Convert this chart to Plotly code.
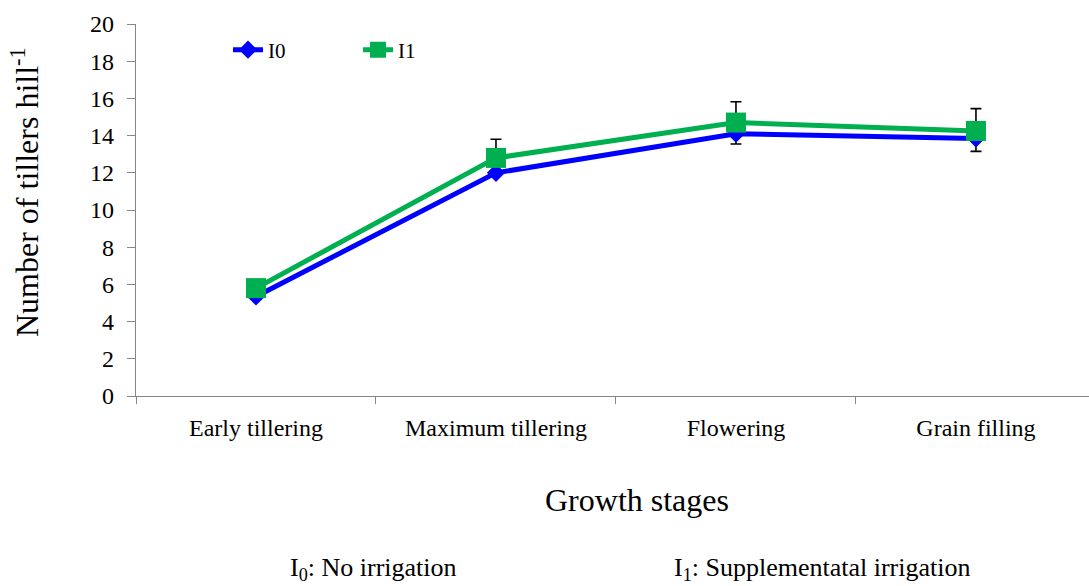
import plotly.graph_objects as go

stages = ["Early tillering", "Maximum tillering", "Flowering", "Grain filling"]
i0_values = [5.35, 12.0, 14.1, 13.85]
i1_values = [5.8, 12.8, 14.7, 14.25]
i0_err_minus = [0.0, 0.0, 0.55, 0.7]
i1_err_plus = [0.0, 1.0, 1.12, 1.2]
y_ticks = list(range(0, 21, 2))

FONT = "Liberation Serif"
L, T, B = 136, 24, 190
W, H = 1089, 586

fig = go.Figure()
fig.add_trace(go.Scatter(
    x=stages, y=i0_values, name="I0", mode="lines+markers",
    line=dict(color="#0000FF", width=5),
    marker=dict(symbol="diamond", size=14, color="#0000FF"),
    error_y=dict(type="data", symmetric=False, array=[0, 0, 0, 0],
                 arrayminus=i0_err_minus, color="black", thickness=1.6, width=5.5),
))
fig.add_trace(go.Scatter(
    x=stages, y=i1_values, name="I1", mode="lines+markers",
    line=dict(color="#00B050", width=5),
    marker=dict(symbol="square", size=20, color="#00B050"),
    error_y=dict(type="data", symmetric=False, array=i1_err_plus,
                 arrayminus=[0, 0, 0, 0], color="black", thickness=1.6, width=5.5),
))

pw, ph = W - L, H - T - B


def px2paper(x, y):
    return (x - L) / pw, (H - B - y) / ph


def ann(text, x, y, size, angle=0):
    xp, yp = px2paper(x, y)
    return dict(text=text, x=xp, y=yp, xref="paper", yref="paper",
                xanchor="center", yanchor="middle", showarrow=False,
                textangle=angle, font=dict(size=size, family=FONT, color="black"))


lx, ly = px2paper(228, 50)

fig.update_layout(
    width=W, height=H,
    margin=dict(l=L, r=0, t=T, b=B, autoexpand=False),
    paper_bgcolor="white", plot_bgcolor="white",
    font=dict(family=FONT, color="black", size=20),
    showlegend=True,
    legend=dict(orientation="h", x=lx, y=ly, xanchor="left", yanchor="middle",
                entrywidth=85, font=dict(size=21, family=FONT),
                bgcolor="rgba(0,0,0,0)"),
    xaxis=dict(
        type="category", range=[-0.5, 3.471],
        showline=True, linecolor="#868686", linewidth=1.3,
        ticks="outside", tickson="boundaries", ticklen=7, tickcolor="#868686",
        showgrid=False, zeroline=False,
        tickfont=dict(size=24, family=FONT), ticklabelstandoff=10,
    ),
    yaxis=dict(
        range=[0, 20], tickvals=y_ticks,
        showline=True, linecolor="#868686", linewidth=1.3,
        ticks="outside", ticklen=8, tickcolor="#868686",
        showgrid=False, zeroline=False,
        tickfont=dict(size=24, family=FONT), ticklabelstandoff=8,
    ),
    annotations=[
        ann("Number of tillers hill<sup>-1</sup>", 25, 192, 32, angle=-90),
        ann("Growth stages", 637, 500, 32),
        ann("I<sub>0</sub>: No irrigation", 373, 569, 26),
        ann("I<sub>1</sub>: Supplementatal irrigation", 822, 569, 26),
    ],
)

fig.write_html("out.html", config={"displayModeBar": False},
               post_script="document.body.style.margin='0';document.body.style.overflow='hidden';")
